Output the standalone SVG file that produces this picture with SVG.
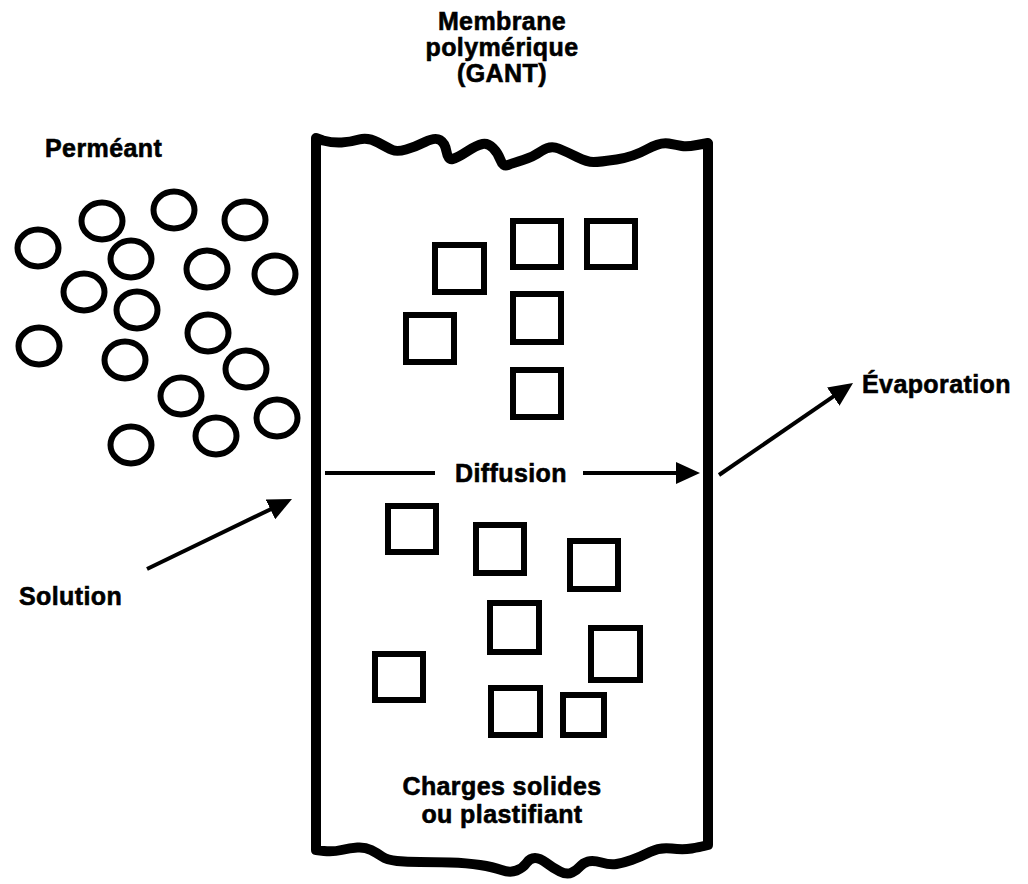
<svg xmlns="http://www.w3.org/2000/svg" width="1028" height="884" viewBox="0 0 1028 884">
  <style>
    .lbl { font-family: "Liberation Sans", Arial, Helvetica, sans-serif; font-weight: bold; font-size: 25px; fill: #000; stroke: #000; stroke-width: 0.6px; letter-spacing: 0.4px; }
    .mid { text-anchor: middle; }
    .wall { fill: none; stroke: #000; stroke-width: 10; stroke-linejoin: round; stroke-linecap: round; }
    .mol { fill: none; stroke: #000; stroke-width: 6; }
    .filler { fill: none; stroke: #000; stroke-width: 6; }
    .arrow { fill: none; stroke: #000; stroke-width: 4; }
  </style>
  <defs>
    <marker id="head" viewBox="0 0 24 22" refX="14" refY="11" markerWidth="24" markerHeight="22" markerUnits="userSpaceOnUse" orient="auto">
      <path d="M0,0 L24,11 L0,22 Z" fill="#000"/>
    </marker>
  </defs>
  <rect width="1028" height="884" fill="#fff"/>

  <!-- Polymer membrane: wavy top and bottom cut edges -->
  <g id="membrane">
    <path class="wall" d="M316,138 L323,140.5 Q333,143 341.5,142.5 Q350,142 359,139.5 Q368,137 378,142.5 Q388,148 392.5,150 Q397,152 406,149.5 Q415,147 425,142 Q435,137 440,140 Q445,143 446.5,151.5 Q448,160 452.5,159 Q457,158 467,151.5 Q477,145 482.5,144 Q488,143 493,148 Q498,153 500.5,160 Q503,167 508,165 Q513,163 523,160 Q533,157 541.5,151 Q550,145 558.5,148.5 Q567,152 577,157 Q587,162 593.5,162 Q600,162 616.5,159.5 Q633,157 646.5,149.5 Q660,142 668.5,143.5 Q677,145 682,146 Q687,147 697,145 L708,143 L708,845 L704,846 Q700,847 691.5,848.5 Q683,850 671.5,848.5 Q660,847 650,852 Q640,857 631.5,860 Q623,863 616.5,864 Q610,865 601.5,862.5 Q593,860 588,861.5 Q583,863 580,866.5 Q577,870 572,872.5 Q567,875 560,871.5 Q553,868 546.5,863 Q540,858 535,858 Q530,858 526.5,863 Q523,868 516.5,870.5 Q510,873 501.5,870 Q493,867 480,865 Q467,863 450,862.5 Q433,862 420,862 Q407,862 397,861 Q387,860 382,856.5 Q377,853 371,850 Q365,847 357.5,847.5 Q350,848 341.5,850 Q333,852 324,851 L316,850 Z"/>
    <text class="lbl mid" x="502" y="30">Membrane</text>
    <text class="lbl mid" x="502" y="56">polymérique</text>
    <text class="lbl mid" x="502" y="82">(GANT)</text>
  </g>

  <!-- Permeant molecules in solution -->
  <g id="permeant">
    <text class="lbl" x="45" y="157">Perméant</text>
    <ellipse class="mol" cx="38" cy="248" rx="20.5" ry="18.5"/>
    <ellipse class="mol" cx="102" cy="221" rx="20.5" ry="18.5"/>
    <ellipse class="mol" cx="174" cy="210" rx="20.5" ry="18.5"/>
    <ellipse class="mol" cx="245" cy="220" rx="20.5" ry="18.5"/>
    <ellipse class="mol" cx="131" cy="259" rx="20.5" ry="18.5"/>
    <ellipse class="mol" cx="207" cy="269" rx="20.5" ry="18.5"/>
    <ellipse class="mol" cx="275" cy="274" rx="20.5" ry="18.5"/>
    <ellipse class="mol" cx="84" cy="292" rx="20.5" ry="18.5"/>
    <ellipse class="mol" cx="137" cy="310" rx="20.5" ry="18.5"/>
    <ellipse class="mol" cx="39" cy="346" rx="20.5" ry="18.5"/>
    <ellipse class="mol" cx="208" cy="333" rx="20.5" ry="18.5"/>
    <ellipse class="mol" cx="125" cy="360" rx="20.5" ry="18.5"/>
    <ellipse class="mol" cx="246" cy="369" rx="20.5" ry="18.5"/>
    <ellipse class="mol" cx="181" cy="396" rx="20.5" ry="18.5"/>
    <ellipse class="mol" cx="277" cy="418" rx="20.5" ry="18.5"/>
    <ellipse class="mol" cx="216" cy="436" rx="20.5" ry="18.5"/>
    <ellipse class="mol" cx="131" cy="445" rx="20.5" ry="18.5"/>
  </g>

  <!-- Solid fillers / plasticiser inside the membrane -->
  <g id="fillers">
    <rect class="filler" x="435" y="245" width="49" height="47"/>
    <rect class="filler" x="513" y="221" width="48" height="46"/>
    <rect class="filler" x="587" y="221" width="48" height="46"/>
    <rect class="filler" x="513" y="294" width="48" height="48"/>
    <rect class="filler" x="406" y="315" width="48" height="47"/>
    <rect class="filler" x="513" y="370" width="48" height="47"/>
    <rect class="filler" x="388" y="506" width="48" height="46"/>
    <rect class="filler" x="476" y="525" width="48" height="48"/>
    <rect class="filler" x="570" y="541" width="48" height="48"/>
    <rect class="filler" x="490" y="603" width="49" height="49"/>
    <rect class="filler" x="591" y="628" width="49" height="52"/>
    <rect class="filler" x="375" y="654" width="48" height="46"/>
    <rect class="filler" x="491" y="688" width="49" height="47"/>
    <rect class="filler" x="563" y="695" width="41" height="40"/>
    <text class="lbl mid" x="502" y="795">Charges solides</text>
    <text class="lbl mid" x="502" y="823">ou plastifiant</text>
  </g>

  <g id="solution">
    <text class="lbl" x="19" y="605">Solution</text>
  </g>
  <g id="evaporation">
    <text class="lbl" x="862" y="393">Évaporation</text>
  </g>
  <g id="diffusion">
    <text class="lbl" x="455" y="482">Diffusion</text>
  </g>

  <!-- Transport steps: sorption, diffusion, evaporation -->
  <g id="connectors">
    <line class="arrow" x1="147" y1="569" x2="283" y2="503.3" marker-end="url(#head)"/>
    <line class="arrow" x1="325" y1="473" x2="435" y2="473"/>
    <line class="arrow" x1="583" y1="473" x2="690" y2="473" marker-end="url(#head)"/>
    <line class="arrow" x1="719" y1="475" x2="844.8" y2="388.7" marker-end="url(#head)"/>
  </g>
</svg>
